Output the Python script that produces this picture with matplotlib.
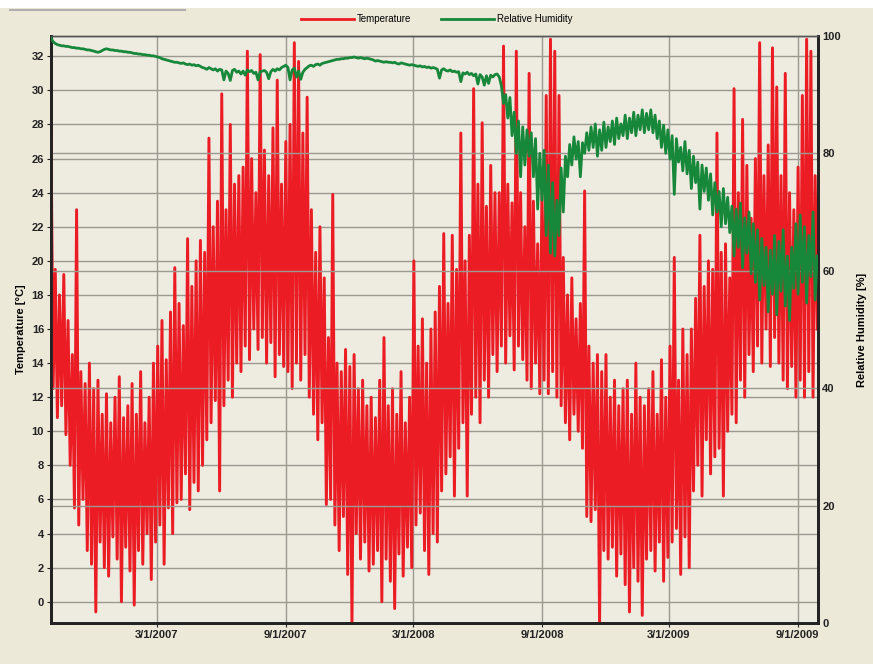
import matplotlib
matplotlib.use("Agg")
import matplotlib.pyplot as plt
from matplotlib.lines import Line2D
import pandas as pd

# Temperature [°C], ten readings per month (Oct 2006 .. Sep 2009)
temperature = [
    28.0, 12.5, 19.5, 10.8, 18.0, 11.5, 19.2, 9.8, 16.5, 8.0,    # Oct 06
    14.5, 5.5, 23.0, 4.5, 13.5, 6.0, 12.8, 3.0, 14.0, 2.2,       # Nov
    12.5, -0.6, 13.0, 3.5, 11.0, 2.0, 12.2, 1.5, 10.5, 3.8,      # Dec
    12.0, 2.5, 13.2, 0.0, 10.8, 3.2, 11.5, 1.8, 12.8, -0.2,      # Jan 07
    11.0, 3.0, 13.5, 2.2, 10.5, 4.0, 12.0, 1.3, 14.0, 3.5,       # Feb
    15.0, 4.5, 16.5, 2.2, 14.2, 5.5, 17.0, 4.0, 19.6, 5.8,       # Mar
    17.5, 6.0, 16.2, 7.5, 21.3, 5.4, 18.5, 7.0, 20.0, 6.5,       # Apr
    21.2, 8.0, 20.5, 9.5, 27.2, 10.5, 22.0, 11.8, 23.5, 6.5,     # May
    29.8, 11.5, 23.0, 13.0, 28.0, 12.0, 24.5, 14.0, 25.0, 13.5,  # Jun
    25.5, 15.0, 32.3, 14.2, 26.0, 16.0, 24.0, 14.8, 32.1, 15.5,  # Jul
    26.5, 14.0, 25.0, 15.2, 27.8, 13.2, 30.6, 14.5, 24.5, 13.8,  # Aug
    27.0, 13.5, 28.0, 12.5, 32.8, 14.0, 31.7, 13.0, 27.5, 14.5,  # Sep
    29.6, 12.0, 23.0, 11.0, 20.5, 9.5, 22.0, 10.5, 19.0, 5.7,    # Oct
    15.5, 6.0, 23.9, 4.5, 14.0, 3.0, 13.5, 5.0, 14.8, 1.6,       # Nov
    13.8, -1.3, 14.5, 4.0, 12.5, 2.5, 13.0, 3.5, 11.5, 1.8,      # Dec
    12.0, 2.2, 10.8, 3.0, 13.0, 0.0, 15.5, 2.5, 11.5, 1.2,       # Jan 08
    12.5, -0.4, 11.0, 2.8, 13.5, 1.5, 10.5, 3.2, 12.0, 2.0,      # Feb
    20.0, 4.5, 15.0, 5.2, 16.6, 3.0, 14.0, 1.6, 16.0, 4.0,       # Mar
    17.0, 3.5, 18.5, 6.5, 21.6, 7.5, 17.5, 8.5, 21.5, 6.2,       # Apr
    19.5, 9.0, 27.5, 10.5, 20.0, 6.2, 21.5, 11.0, 30.1, 12.0,    # May
    24.5, 10.5, 28.1, 13.0, 23.2, 12.0, 25.6, 14.5, 24.0, 13.5,  # Jun
    24.0, 15.0, 32.6, 14.0, 24.5, 15.6, 23.4, 13.6, 32.3, 15.0,  # Jul
    24.0, 14.2, 22.0, 13.0, 31.0, 12.5, 23.5, 14.0, 21.0, 12.2,  # Aug
    24.0, 13.0, 29.7, 12.2, 33.0, 13.5, 32.3, 12.0, 29.7, 11.5,  # Sep
    20.2, 10.5, 18.0, 9.5, 19.0, 11.0, 16.6, 10.0, 17.5, 9.0,    # Oct
    24.1, 5.0, 15.0, 4.7, 14.0, 5.4, 14.5, -1.3, 13.5, 3.0,      # Nov
    14.5, 2.5, 12.0, 3.2, 13.0, 1.5, 11.5, 2.8, 12.5, 1.0,       # Dec
    13.0, -0.6, 11.0, 2.0, 14.0, 1.2, 12.0, -0.8, 11.5, 2.5,     # Jan 09
    12.5, 3.0, 13.5, 1.8, 11.0, 3.5, 14.2, 1.2, 12.0, 2.6,       # Feb
    15.0, 3.5, 20.2, 4.3, 13.0, 1.6, 16.0, 3.8, 14.5, 2.0,       # Mar
    16.0, 6.5, 17.8, 8.0, 21.5, 6.2, 18.5, 9.5, 20.0, 7.5,       # Apr
    19.5, 8.5, 27.5, 9.0, 20.5, 6.2, 21.0, 10.0, 19.0, 11.0,     # May
    30.1, 10.5, 24.0, 13.0, 28.3, 12.0, 25.6, 14.5, 22.5, 13.5,  # Jun
    26.0, 15.0, 32.8, 14.0, 25.0, 16.0, 26.8, 13.8, 32.5, 15.5,  # Jul
    30.2, 14.0, 25.0, 13.0, 31.0, 12.5, 24.0, 13.8, 23.0, 12.0,  # Aug
    25.5, 13.0, 29.7, 12.0, 33.0, 13.5, 32.3, 12.0, 25.0, 16.0,  # Sep
]

# Relative humidity [%], same sampling
humidity = [
    99.6, 99.0, 98.7, 98.5, 98.4, 98.3, 98.3, 98.2, 98.2, 98.1,  # Oct 06
    98.0, 98.0, 97.9, 97.9, 97.8, 97.8, 97.7, 97.6, 97.6, 97.5,  # Nov
    97.4, 97.3, 97.2, 97.3, 97.5, 97.7, 97.8, 97.7, 97.6, 97.6,  # Dec
    97.5, 97.5, 97.4, 97.4, 97.3, 97.3, 97.2, 97.2, 97.1, 97.0,  # Jan 07
    97.0, 96.9, 96.9, 96.8, 96.8, 96.7, 96.7, 96.6, 96.6, 96.5,  # Feb
    96.4, 96.3, 96.1, 96.0, 95.9, 95.8, 95.7, 95.6, 95.5, 95.5,  # Mar
    95.4, 95.3, 95.4, 95.2, 95.1, 95.2, 95.0, 95.1, 94.9, 95.0,  # Apr
    94.8, 94.6, 94.5, 94.3, 94.6, 94.4, 94.2, 94.4, 94.0, 94.3,  # May
    94.2, 92.5, 94.0, 93.6, 92.4, 94.1, 94.3, 93.8, 94.0, 93.5,  # Jun
    94.0, 93.3, 94.2, 93.9, 94.1, 93.6, 93.8, 92.5, 93.9, 94.0,  # Jul
    94.1, 93.8, 92.7, 93.9, 94.3, 94.0, 94.4, 94.2, 94.6, 94.8,  # Aug
    95.0, 94.6, 92.5, 94.2, 94.5, 93.0, 94.0, 92.6, 93.8, 94.3,  # Sep
    94.6, 94.9, 95.0, 94.8, 95.1, 95.2, 95.0, 95.3, 95.4, 95.5,  # Oct
    95.6, 95.7, 95.8, 95.9, 96.0, 96.0, 96.1, 96.1, 96.2, 96.2,  # Nov
    96.3, 96.3, 96.4, 96.3, 96.2, 96.3, 96.2, 96.1, 96.2, 96.1,  # Dec
    96.0, 95.9, 95.7, 95.8, 95.7, 95.6, 95.5, 95.6, 95.5, 95.5,  # Jan 08
    95.4, 95.5, 95.3, 95.2, 95.4, 95.3, 95.2, 95.1, 95.0, 95.1,  # Feb
    95.0, 94.9, 94.8, 94.9, 94.7, 94.8, 94.6, 94.7, 94.5, 94.6,  # Mar
    94.5, 94.3, 92.8, 94.2, 94.4, 94.1, 94.0, 94.2, 93.9, 94.0,  # Apr
    93.8, 93.9, 92.2, 93.7, 93.5, 93.8, 93.4, 93.6, 93.2, 93.5,  # May
    91.8, 93.4, 93.0, 91.6, 93.2, 91.9, 93.3, 93.0, 93.4, 93.5,  # Jun
    93.0, 91.5, 88.5, 90.0, 86.0, 89.5, 83.0, 87.0, 80.0, 85.5,  # Jul
    76.0, 84.5, 78.0, 84.0, 79.5, 83.5, 76.0, 82.5, 70.5, 80.0,  # Aug
    72.0, 80.5, 66.0, 78.0, 63.0, 75.0, 62.5, 72.0, 66.0, 77.5,  # Sep
    70.0, 79.5, 76.0, 81.5, 78.0, 82.8, 79.0, 82.0, 76.0, 81.8,  # Oct
    80.0, 83.5, 80.5, 84.5, 81.0, 85.0, 79.5, 84.0, 80.5, 85.3,  # Nov
    81.0, 84.5, 82.0, 85.5, 81.5, 86.0, 82.5, 85.0, 83.0, 86.5,  # Dec
    82.5, 86.0, 83.5, 87.0, 83.0, 86.5, 84.0, 87.4, 83.5, 86.8,  # Jan 09
    84.0, 87.4, 83.5, 86.5, 82.5, 85.5, 81.0, 84.8, 80.0, 84.0,  # Feb
    79.0, 83.0, 73.0, 82.5, 78.5, 81.0, 77.0, 82.0, 76.5, 80.5,  # Mar
    74.0, 79.5, 75.0, 78.5, 70.5, 78.0, 73.5, 77.5, 72.0, 76.5,  # Apr
    69.5, 75.0, 70.0, 73.5, 67.5, 74.0, 68.0, 72.5, 66.5, 71.0,  # May
    62.5, 70.5, 64.0, 71.5, 60.5, 69.0, 63.0, 70.0, 59.5, 68.0,  # Jun
    58.0, 67.0, 55.0, 65.5, 57.5, 64.0, 53.0, 63.5, 56.0, 66.0,  # Jul
    52.5, 65.0, 56.5, 67.0, 54.0, 62.5, 51.5, 64.0, 57.0, 68.0,  # Aug
    56.0, 69.5, 58.0, 67.5, 54.5, 66.0, 59.0, 70.0, 55.0, 62.5,  # Sep
]

tick_dates = ["2007-03-01", "2007-09-01", "2008-03-01",
              "2008-09-01", "2009-03-01", "2009-09-01"]
tick_labels = ["3/1/2007", "9/1/2007", "3/1/2008",
               "9/1/2008", "3/1/2009", "9/1/2009"]

dates = pd.date_range("2006-10-01", "2009-09-29", periods=len(temperature))

BG = "#ECE9D8"
GRID = "#9C9A90"
RED = "#EC1C24"
GREEN = "#17873A"

plt.rcParams["font.family"] = ["Liberation Sans", "DejaVu Sans"]

fig = plt.figure(figsize=(8.73, 6.64), dpi=100, facecolor=BG)
ax = fig.add_axes([0.0584, 0.0617, 0.8786, 0.8843])
ax.set_facecolor("#EEEBE1")
ax2 = ax.twinx()

ax.plot(dates, temperature, color=RED, lw=2.1, label="Temperature", zorder=3)
ax2.plot(dates, humidity, color=GREEN, lw=2.0, label="Relative Humidity", zorder=3)

ax.set_xlim(pd.Timestamp("2006-10-01"), pd.Timestamp("2009-09-30"))
ax.set_ylim(-1.25, 33.2)
ax2.set_ylim(0, 100)

ax.set_yticks(range(0, 33, 2))
ax2.set_yticks(range(0, 101, 20))
ax.set_xticks([pd.Timestamp(d) for d in tick_dates])
ax.set_xticklabels(tick_labels)

ax.grid(True, color=GRID, lw=1.0, zorder=0)
ax2.grid(True, axis="y", color=GRID, lw=1.0, zorder=0)
ax.set_axisbelow(True)

for a in (ax, ax2):
    for side in ("left", "bottom", "right"):
        a.spines[side].set_linewidth(2.0)
        a.spines[side].set_color("#222222")
    a.spines["top"].set_linewidth(1.0)
    a.spines["top"].set_color("#555555")

ax.tick_params(axis="both", labelsize=8, length=3, width=0.8, colors="#222222", pad=2)
ax2.tick_params(axis="y", labelsize=8, length=0, colors="#222222", pad=3)
for lbl in ax.get_xticklabels() + ax.get_yticklabels() + ax2.get_yticklabels():
    lbl.set_fontweight("bold")

ax.set_ylabel("Temperature [°C]", fontsize=8, fontweight="bold", labelpad=4)
ax2.set_ylabel("Relative Humidity [%]", fontsize=8, fontweight="bold", labelpad=12)

handles = [Line2D([], [], color=RED, lw=2), Line2D([], [], color=GREEN, lw=2)]
fig.legend(handles, ["Temperature", "Relative Humidity"], loc="center",
           bbox_to_anchor=(0.5, 0.971), ncol=2, frameon=False, fontsize=7,
           handlelength=5.5, handletextpad=0.3, columnspacing=3.0)

# window chrome at the top edge
fig.add_artist(plt.Rectangle((0, 0.988), 1, 0.012, transform=fig.transFigure,
                             facecolor="white", edgecolor="none"))
fig.add_artist(Line2D([0.012, 0.212], [0.985, 0.985], transform=fig.transFigure,
                      color="#B0B0B0", lw=1.5))

fig.savefig("out.png", dpi=100, facecolor=BG)
